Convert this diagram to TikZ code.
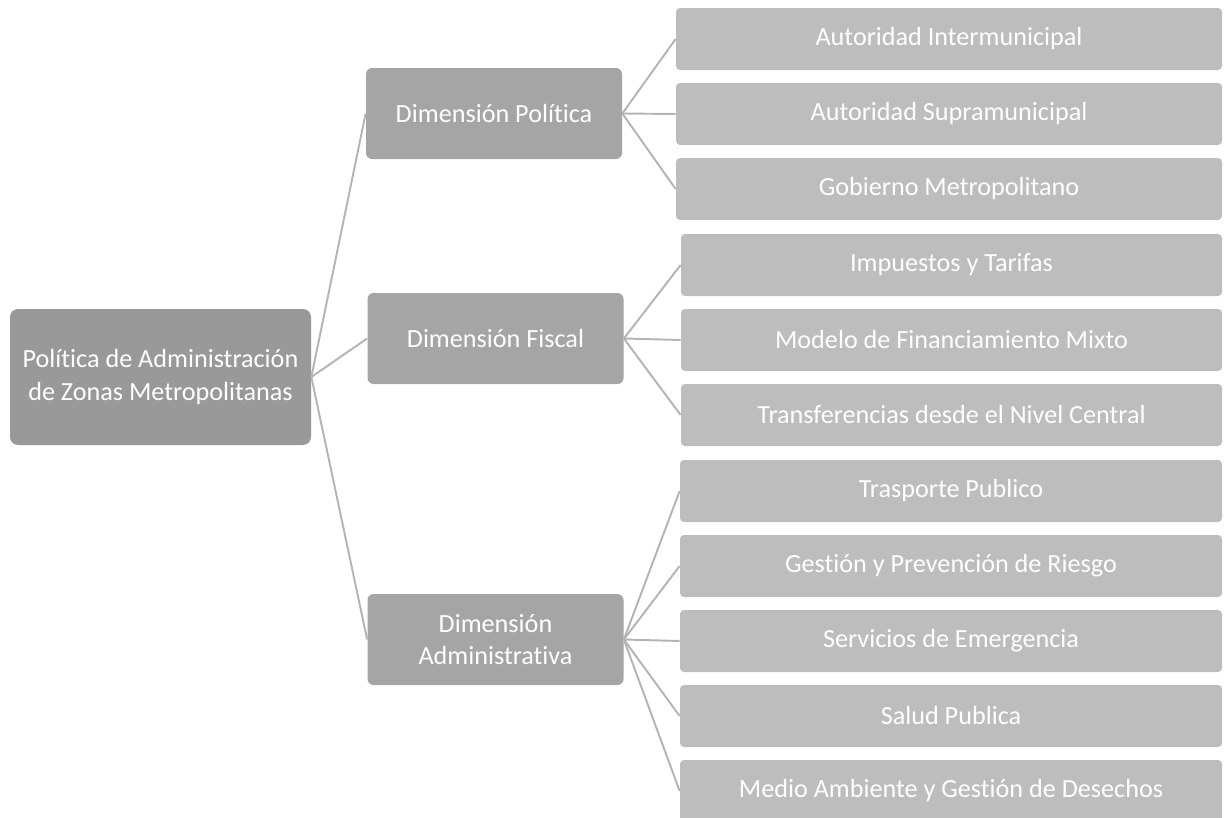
\documentclass[tikz,border=0pt]{standalone}
\usepackage{fontspec}
\setmainfont{Carlito}[Ligatures={NoCommon}]
\usepackage{tikz}
\usetikzlibrary{positioning}

\definecolor{rootgray}{HTML}{999999}
\definecolor{dimgray}{HTML}{A5A5A5}
\definecolor{leafgray}{HTML}{BDBDBD}
\definecolor{linegray}{HTML}{B4B4B4}

\newlength\pxu
\setlength\pxu{0.02cm}

\tikzset{
	box/.style={rectangle, text=white, inner sep=0pt, align=center, font=\fontsize{14.9pt}{18.5pt}\selectfont},
	rootbox/.style={box, fill=rootgray, rounded corners=8\pxu, minimum width=301\pxu, minimum height=136\pxu},
	dimbox/.style={box, fill=dimgray, rounded corners=6\pxu, minimum width=256\pxu, minimum height=91\pxu},
	leafbox/.style={box, fill=leafgray, rounded corners=4\pxu, minimum height=62\pxu},
	link/.style={draw=linegray, line width=1.1pt}
}

\begin{document}
\begin{tikzpicture}[x=0.02cm, y=-0.02cm]

		\useasboundingbox (0,0) rectangle (1225,818);

		\node[rootbox] (root) at (160.5,377) {Política de Administración\\de Zonas Metropolitanas};

		\node[dimbox] (pol) at (494,113.5) {Dimensión Política};
		\node[dimbox] (fis) at (495.5,338.5) {Dimensión Fiscal};
		\node[dimbox] (adm) at (495.5,639.5) {Dimensión\\Administrativa};

		% politica
		\node[leafbox, minimum width=546\pxu] (pol1) at (949,39) {Autoridad Intermunicipal};
		\node[leafbox, minimum width=546\pxu] (pol2) at (949,114) {Autoridad Supramunicipal};
		\node[leafbox, minimum width=546\pxu] (pol3) at (949,189) {Gobierno Metropolitano};

		% fiscal
		\node[leafbox, minimum width=541\pxu] (fis1) at (951.5,265) {Impuestos y Tarifas};
		\node[leafbox, minimum width=541\pxu] (fis2) at (951.5,340) {Modelo de Financiamiento Mixto};
		\node[leafbox, minimum width=541\pxu] (fis3) at (951.5,415) {Transferencias desde el Nivel Central};

		% administrativa
		\node[leafbox, minimum width=542\pxu] (adm1) at (951,491) {Trasporte Publico};
		\node[leafbox, minimum width=542\pxu] (adm2) at (951,566) {Gestión y Prevención de Riesgo};
		\node[leafbox, minimum width=542\pxu] (adm3) at (951,641) {Servicios de Emergencia};
		\node[leafbox, minimum width=542\pxu] (adm4) at (951,716) {Salud Publica};
		\node[leafbox, minimum width=542\pxu] (adm5) at (951,791) {Medio Ambiente y Gestión de Desechos};

		\foreach \d in {pol, fis, adm}
			\draw[link] (root.east) -- (\d.west);

		\foreach \l in {pol1, pol2, pol3}
			\draw[link] (pol.east) -- (\l.west);
		\foreach \l in {fis1, fis2, fis3}
			\draw[link] (fis.east) -- (\l.west);
		\foreach \l in {adm1, adm2, adm3, adm4, adm5}
			\draw[link] (adm.east) -- (\l.west);

\end{tikzpicture}
\end{document}
